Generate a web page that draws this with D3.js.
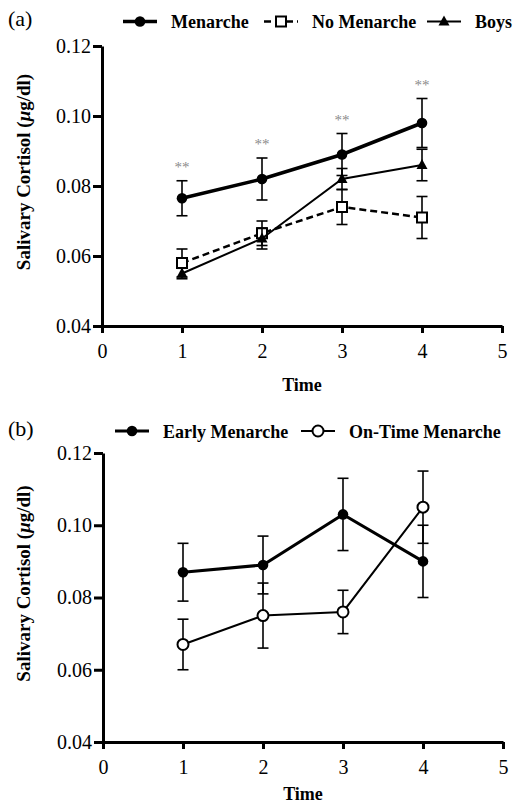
<!DOCTYPE html>
<html>
<head>
<meta charset="utf-8">
<script src="https://cdn.jsdelivr.net/npm/d3@7/dist/d3.min.js"></script>
<style>
  body { margin: 0; background: #fff; }
  svg { display: block; }
  svg text { font-family: "Liberation Serif", Tinos, "Times New Roman", Times, "DejaVu Serif", serif; }
</style>
</head>
<body>
<div id="chart"></div>
<script>
// data
const times = [1, 2, 3, 4]
const xTicks = [0, 1, 2, 3, 4, 5]
const yTicks = [0.04, 0.06, 0.08, 0.10, 0.12]

// panel (a)
const menarcheMean = [0.0765, 0.082, 0.089, 0.098]
const menarcheErr = [0.005, 0.006, 0.006, 0.007]
const noMenarcheMean = [0.058, 0.0665, 0.074, 0.071]
const noMenarcheErr = [0.004, 0.0035, 0.005, 0.006]
const boysMean = [0.055, 0.065, 0.082, 0.086]
const boysErr = [0.0015, 0.003, 0.003, 0.0045]
const starTimes = [1, 2, 3, 4]

// panel (b)
const earlyMean = [0.087, 0.089, 0.103, 0.090]
const earlyErr = [0.008, 0.008, 0.010, 0.010]
const onTimeMean = [0.067, 0.075, 0.076, 0.105]
const onTimeErr = [0.007, 0.009, 0.006, 0.010]

const W = 514, H = 804

const svg = d3.select('#chart').append('svg')
    .attr('width', W)
    .attr('height', H)

function drawMarker(g, type, x, y) {
    if (type === 'filled') {
        g.append('circle').attr('cx', x).attr('cy', y).attr('r', 5.3).attr('fill', 'black')
    } else if (type === 'open') {
        g.append('circle').attr('cx', x).attr('cy', y).attr('r', 5.5)
            .attr('fill', 'white').attr('stroke', 'black').attr('stroke-width', 2)
    } else if (type === 'square') {
        g.append('rect').attr('x', x - 5).attr('y', y - 5).attr('width', 10).attr('height', 10)
            .attr('fill', 'white').attr('stroke', 'black').attr('stroke-width', 2)
    } else if (type === 'triangle') {
        g.append('path')
            .attr('d', 'M' + x + ',' + (y - 6) + 'L' + (x + 5.5) + ',' + (y + 4) + 'L' + (x - 5.5) + ',' + (y + 4) + 'Z')
            .attr('fill', 'black')
    }
}

function drawPanel(p) {
    const x = d3.scaleLinear().domain([0, 5]).range([p.left, p.right])
    const y = d3.scaleLinear().domain([0.04, 0.12]).range([p.bottom, p.top])
    const g = svg.append('g')

    // panel letter
    g.append('text')
        .attr('x', 8)
        .attr('y', p.letterY)
        .attr('font-size', 22)
        .text(p.letter)

    // y axis
    const yAxis = g.append('g')
        .attr('transform', 'translate(' + p.left + ',0)')
        .call(d3.axisLeft(y).tickValues(yTicks).tickFormat(d3.format('.2f')).tickSize(9).tickPadding(2).tickSizeOuter(0))
    // x axis
    const xAxis = g.append('g')
        .attr('transform', 'translate(0,' + p.bottom + ')')
        .call(d3.axisBottom(x).tickValues(xTicks).tickFormat(d3.format('d')).tickSize(7).tickPadding(11).tickSizeOuter(0))

    for (const ax of [yAxis, xAxis]) {
        ax.attr('font-family', null)
        ax.select('.domain').attr('stroke-width', 3).attr('stroke', 'black')
        ax.selectAll('.tick line').attr('stroke-width', 3).attr('stroke', 'black')
        ax.selectAll('.tick text')
            .attr('font-size', 20)
            .attr('fill', 'black')
    }

    // axis titles
    const yTitle = g.append('text')
        .attr('transform', 'translate(30,' + ((p.top + p.bottom) / 2 - 14) + ') rotate(-90)')
        .attr('text-anchor', 'middle')
        .attr('font-size', 19)
        .attr('font-weight', 'bold')
    yTitle.append('tspan').text('Salivary Cortisol (')
    yTitle.append('tspan').attr('font-style', 'italic').text('μ')
    yTitle.append('tspan').text('g/dl)')

    g.append('text')
        .attr('x', (p.left + p.right) / 2)
        .attr('y', p.timeY)
        .attr('text-anchor', 'middle')
        .attr('font-size', 18)
        .attr('font-weight', 'bold')
        .text('Time')

    // series
    p.series.forEach(s => {
        const pts = times.map((t, i) => ({ t: t, m: s.mean[i], e: s.err[i] }))
        const sg = g.append('g')

        // error bars
        pts.forEach(d => {
            const cx = x(d.t)
            sg.append('line')
                .attr('x1', cx).attr('x2', cx)
                .attr('y1', y(d.m - d.e)).attr('y2', y(d.m + d.e))
                .attr('stroke', 'black').attr('stroke-width', 1.6)
            for (const v of [d.m - d.e, d.m + d.e]) {
                sg.append('line')
                    .attr('x1', cx - 5.5).attr('x2', cx + 5.5)
                    .attr('y1', y(v)).attr('y2', y(v))
                    .attr('stroke', 'black').attr('stroke-width', 1.6)
            }
        })

        sg.append('path')
            .datum(pts)
            .attr('d', d3.line().x(d => x(d.t)).y(d => y(d.m)))
            .attr('fill', 'none')
            .attr('stroke', 'black')
            .attr('stroke-width', s.width)
            .attr('stroke-dasharray', s.dash || null)

        pts.forEach(d => drawMarker(sg, s.marker, x(d.t), y(d.m)))
    })

    // stars
    if (p.stars) {
        p.stars.forEach(t => {
            const i = times.indexOf(t)
            const top = d3.max(p.series, s => s.mean[i] + s.err[i])
            g.append('text')
                .attr('x', x(t))
                .attr('y', y(top) - 9)
                .attr('text-anchor', 'middle')
                .attr('font-size', 15)
                .attr('fill', '#8a8a8a')
                .text('**')
        })
    }

    // legend
    const lg = g.append('g')
    p.series.forEach((s, i) => {
        const lx = p.legendX[i]
        lg.append('line')
            .attr('x1', lx).attr('x2', lx + 34)
            .attr('y1', p.legendY).attr('y2', p.legendY)
            .attr('stroke', 'black')
            .attr('stroke-width', s.width)
            .attr('stroke-dasharray', s.dash || null)
        drawMarker(lg, s.marker, lx + 17, p.legendY)
        lg.append('text')
            .attr('x', lx + 48)
            .attr('y', p.legendY + 6.5)
            .attr('font-size', 18)
            .attr('font-weight', 'bold')
            .text(s.name)
    })
}

drawPanel({
    letter: '(a)', letterY: 26,
    left: 102, right: 502, top: 46, bottom: 326, timeY: 391,
    legendY: 21.5, legendX: [123, 264, 427],
    stars: starTimes,
    series: [
        { name: 'Menarche', mean: menarcheMean, err: menarcheErr, marker: 'filled', width: 3.5 },
        { name: 'No Menarche', mean: noMenarcheMean, err: noMenarcheErr, marker: 'square', width: 2.5, dash: '7,4' },
        { name: 'Boys', mean: boysMean, err: boysErr, marker: 'triangle', width: 2 }
    ]
})

drawPanel({
    letter: '(b)', letterY: 436,
    left: 103, right: 503, top: 453, bottom: 742, timeY: 800,
    legendY: 431, legendX: [115, 301],
    series: [
        { name: 'Early Menarche', mean: earlyMean, err: earlyErr, marker: 'filled', width: 3 },
        { name: 'On-Time Menarche', mean: onTimeMean, err: onTimeErr, marker: 'open', width: 2 }
    ]
})
</script>
</body>
</html>
